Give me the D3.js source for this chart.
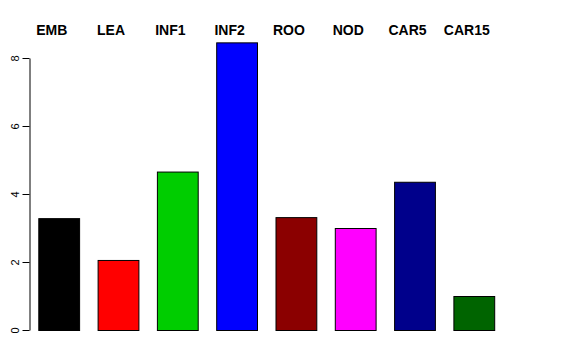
<!DOCTYPE html>
<html>
<head>
<meta charset="utf-8">
<script src="https://cdn.jsdelivr.net/npm/d3@7"></script>
<style>
html,body{margin:0;padding:0;background:#fff;}
svg{display:block;}
</style>
</head>
<body>
<script>
const categories = ["EMB","LEA","INF1","INF2","ROO","NOD","CAR5","CAR15"];
const values = [3.29, 2.06, 4.66, 8.46, 3.32, 3.0, 4.36, 1.0];
const colors = ["#000000","#FF0000","#00CD00","#0000FF","#8B0000","#FF00FF","#00008B","#006400"];
const yTicks = [0,2,4,6,8];

const W = 576, H = 360;
const svg = d3.select("body").append("svg").attr("width", W).attr("height", H);

const x = d3.scaleBand().domain(categories).range([38.3, 495.2]).paddingInner(0.295).paddingOuter(0);
const y = d3.scaleLinear().domain([0, 8]).range([330, 58]);

svg.append("g").selectAll("rect").data(categories).join("rect")
  .attr("x", d => x(d) + 0.5)
  .attr("y", (d,i) => y(values[i]) + 0.5)
  .attr("width", x.bandwidth() - 1)
  .attr("height", (d,i) => y(0) - y(values[i]))
  .attr("fill", (d,i) => colors[i])
  .attr("stroke", "#000")
  .attr("stroke-width", 1);

// top labels
svg.append("g").selectAll("text").data(categories).join("text")
  .attr("x", d => x(d) + x.bandwidth()/2 - 7.5)
  .attr("y", 35)
  .attr("text-anchor", "middle")
  .attr("font-family", "Liberation Sans, Arial, sans-serif")
  .attr("font-weight", "bold")
  .attr("font-size", 14)
  .text(d => d);

// y axis
const axis = d3.axisLeft(y).tickValues(yTicks).tickSize(7).tickSizeOuter(0).tickFormat(d3.format("d"));
const g = svg.append("g").attr("transform", "translate(29.5,0)").call(axis);
g.select(".domain").attr("stroke", "#000");
g.selectAll(".tick line").attr("stroke", "#000");
g.selectAll(".tick text")
  .attr("font-family", "Liberation Sans, Arial, sans-serif")
  .attr("font-size", 11)
  .attr("fill", "#000")
  .attr("x", 0).attr("dy", 0)
  .attr("text-anchor", "middle")
  .attr("transform", "translate(-11,0) rotate(-90)");
</script>
</body>
</html>
